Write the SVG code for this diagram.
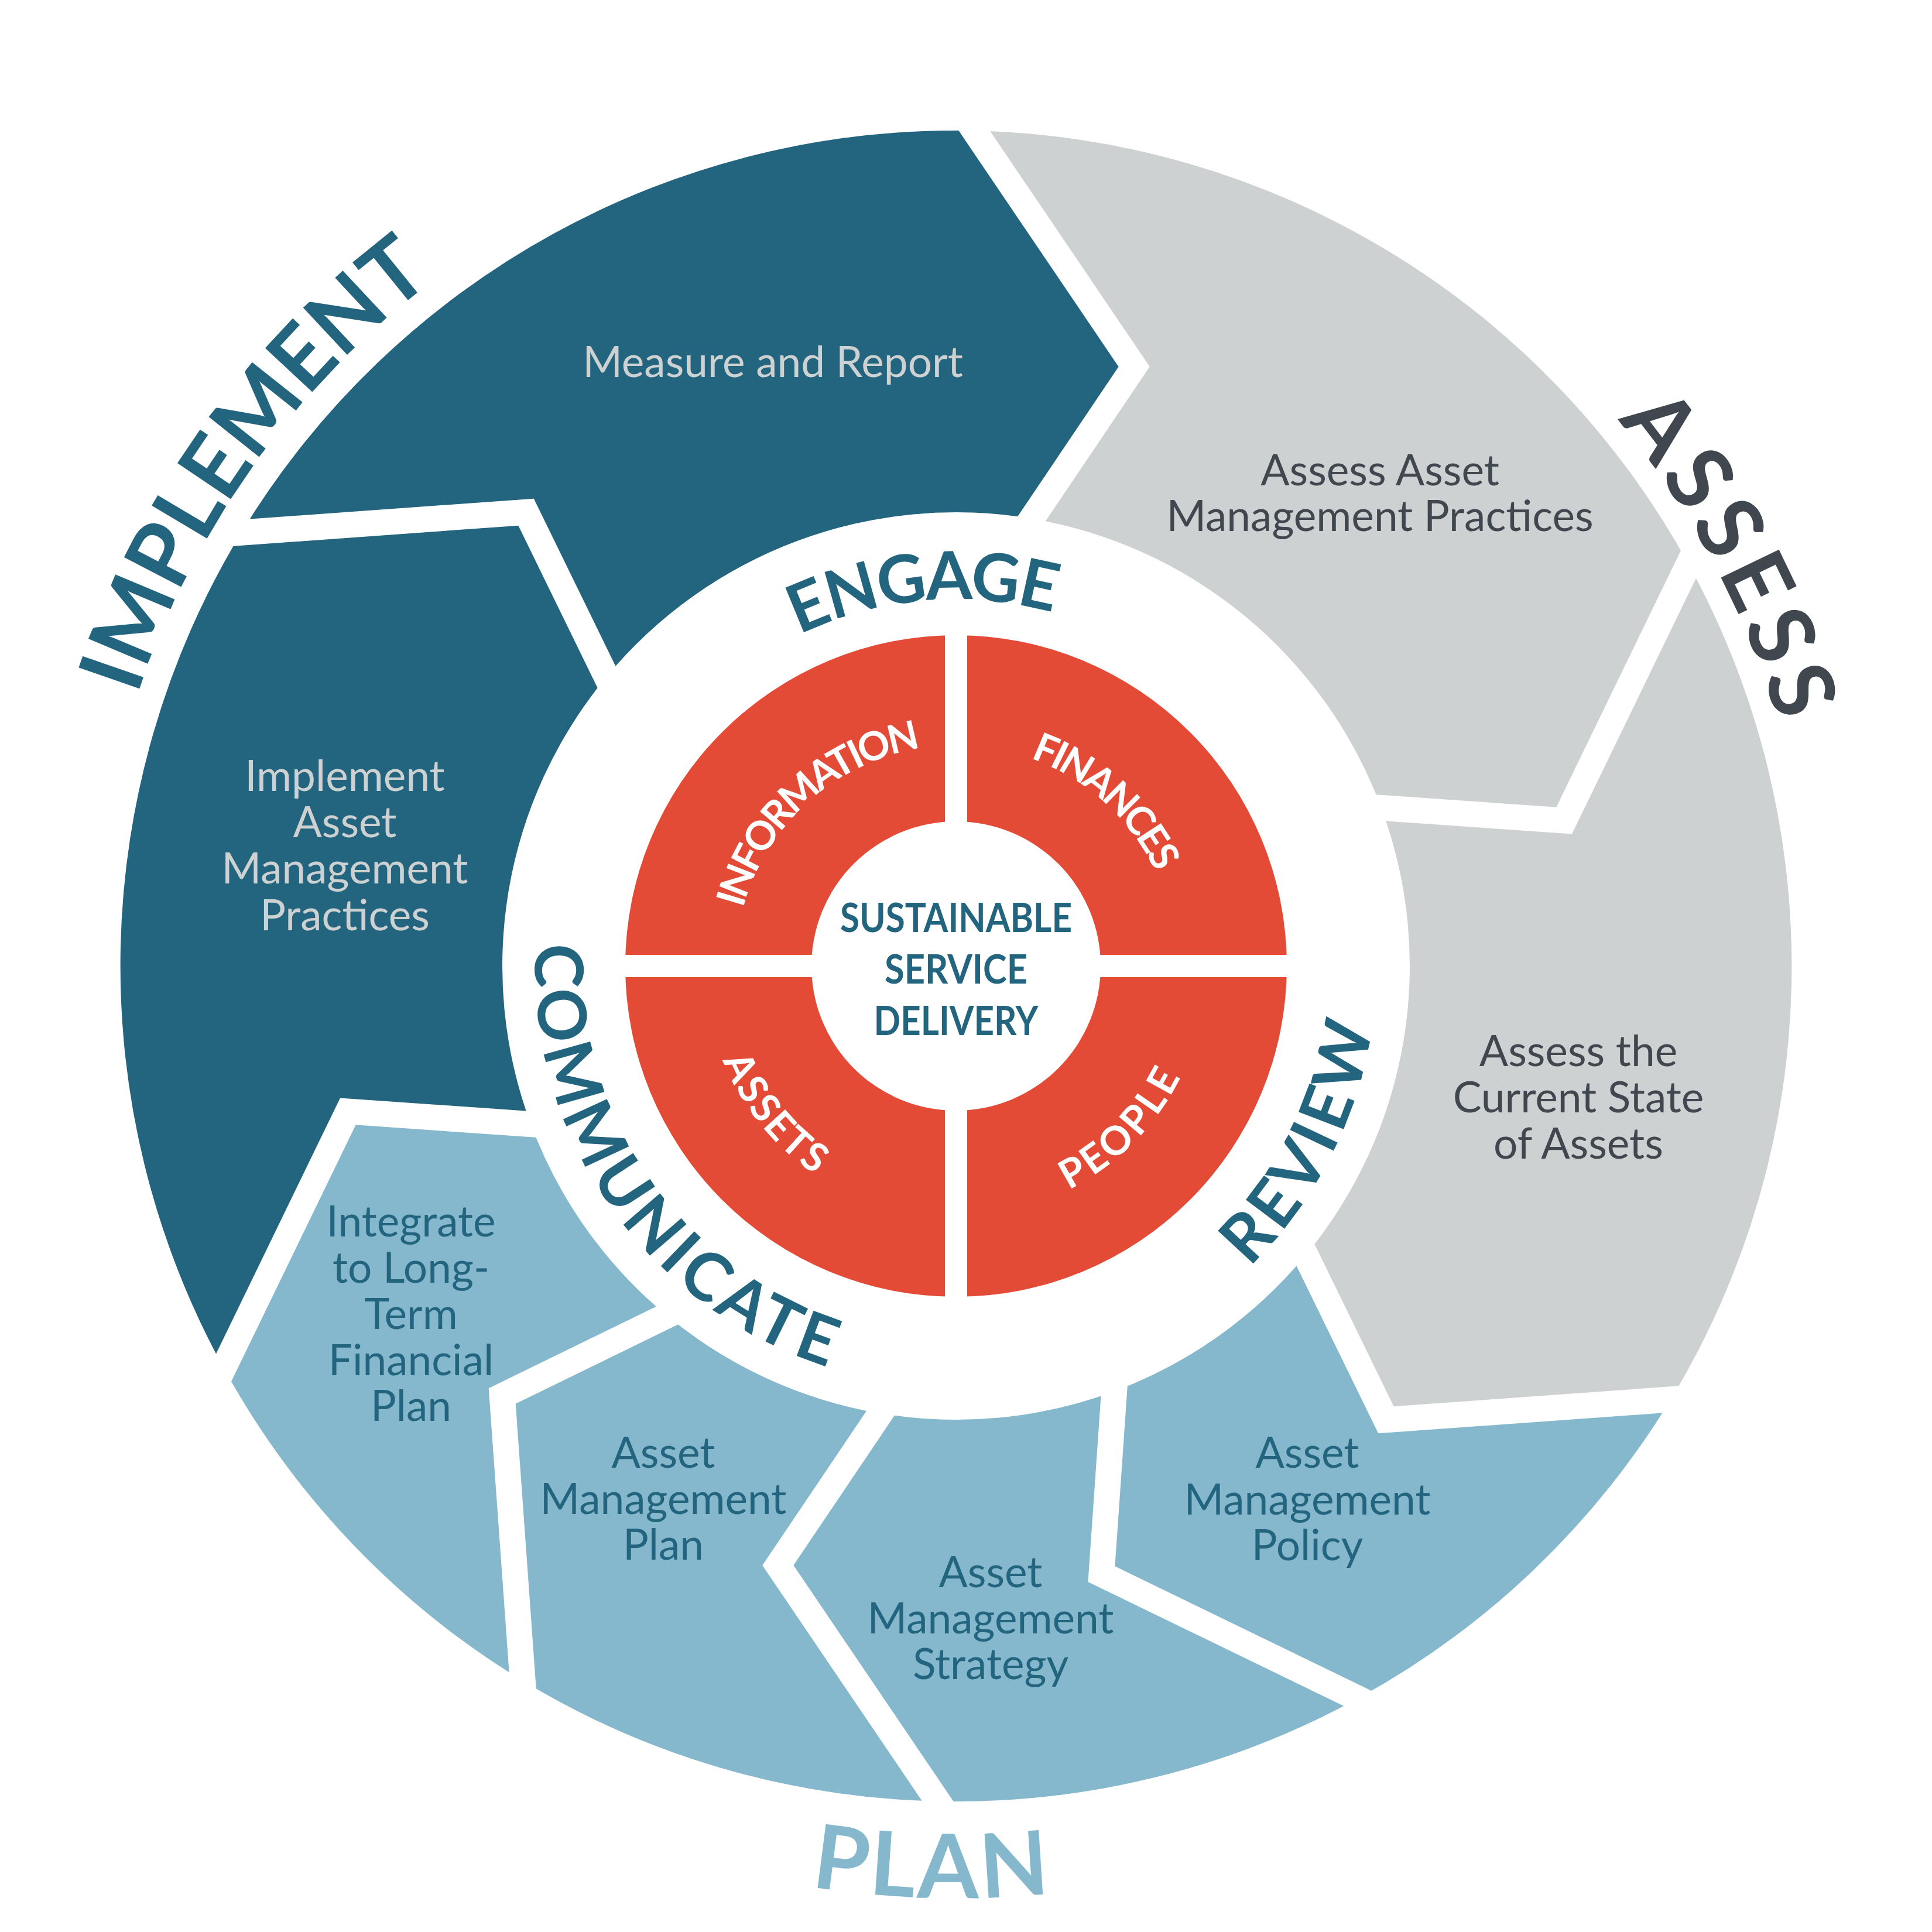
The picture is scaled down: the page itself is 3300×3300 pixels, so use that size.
<svg xmlns="http://www.w3.org/2000/svg" xmlns:xlink="http://www.w3.org/1999/xlink" width="3300" height="3300" viewBox="0 0 3300 3300">
<style>
.dark{fill:#23647e}
.grey{fill:#cdd1d2}
.light{fill:#86b8cd}
.sep{fill:none;stroke:#ffffff;stroke-width:44;stroke-linejoin:miter}
.seg{font-family:Lato,"Open Sans","Liberation Sans",sans-serif;font-size:73px;text-anchor:middle}
.t-dark{fill:#cdd1d2}
.t-grey{fill:#41474f}
.t-light{fill:#23647e}
.big{font-family:Lato,"Open Sans","Liberation Sans",sans-serif;font-weight:700;font-size:152px;text-anchor:middle}
.mid{font-family:Lato,"Open Sans","Liberation Sans",sans-serif;font-weight:700;font-size:114px;text-anchor:middle;fill:#23647e}
.red{font-family:Lato,"Open Sans","Liberation Sans",sans-serif;font-weight:700;font-size:68px;text-anchor:middle;fill:#ffffff}
.core{font-family:Lato,"Open Sans","Liberation Sans",sans-serif;font-weight:700;font-size:68px;text-anchor:middle;fill:#23647e}
</style>
<defs>
<polyline id="sepBase" class="sep" points="3100.8,1621.1 2663.1,1931.8 2357.7,1735.5"/>
<path id="pImplement" d="M 292.6 2260.8 A 1473 1473 0 0 1 1774.2 183.8"/>
<path id="pAssess" d="M 1684.1 185.9 A 1465 1465 0 0 1 2875.4 2426.3"/>
<path id="pPlan" d="M 232.6 2407.2 A 1592 1592 0 0 0 2989.0 2484.2"/>
<path id="pEngage" d="M 1065.6 1385.4 A 626 626 0 0 1 2145.8 1290.9"/>
<path id="pCommunicate" d="M 983.5 1341.6 A 719 719 0 0 0 1690.7 2366.7"/>
<path id="pReview" d="M 1670.6 2367.0 A 718 718 0 0 0 2235.2 1259.0"/>
<path id="pInformation" d="M 1264.2 1728.4 A 377 377 0 0 1 1749.5 1291.5"/>
<path id="pFinances" d="M 1518.4 1290.8 A 377 377 0 0 1 2001.3 1730.3"/>
<path id="pAssets" d="M 1231.6 1495.9 A 430 430 0 0 0 1700.3 2074.7"/>
<path id="pPeople" d="M 1523.7 2063.8 A 428 428 0 0 0 2046.0 1537.8"/>
</defs>
<rect x="0" y="0" width="3300" height="3300" fill="#ffffff"/>

<g id="segment-measure">
<path class="dark" d="M 412.2 909.7 A 1427 1427 0 0 1 1664.1 223.3 L 1937.2 626.2 L 1762.2 885.8 A 775 775 0 0 0 1035.9 1156.0 L 898.3 874.8 Z"/>
</g>
<g id="segment-assess-practices">
<path class="grey" d="M 1664.1 223.3 A 1427 1427 0 0 1 2884.1 963.7 L 2671.7 1401.6 L 2359.4 1379.9 A 775 775 0 0 0 1762.2 885.8 L 1937.2 626.2 Z"/>
</g>
<g id="segment-assess-state">
<path class="grey" d="M 2884.1 963.7 A 1427 1427 0 0 1 2853.8 2390.3 L 2367.7 2425.2 L 2230.1 2144.0 A 775 775 0 0 0 2359.4 1379.9 L 2671.7 1401.6 Z"/>
</g>
<g id="segment-policy">
<path class="light" d="M 2853.8 2390.3 A 1427 1427 0 0 1 2319.3 2901.1 L 1881.4 2688.7 L 1903.1 2376.4 A 775 775 0 0 0 2230.1 2144.0 L 2367.7 2425.2 Z"/>
</g>
<g id="segment-strategy">
<path class="light" d="M 2319.3 2901.1 A 1427 1427 0 0 1 1601.9 3076.7 L 1328.8 2673.8 L 1503.8 2414.2 A 775 775 0 0 0 1903.1 2376.4 L 1881.4 2688.7 Z"/>
</g>
<g id="segment-plan">
<path class="light" d="M 1601.9 3076.7 A 1427 1427 0 0 1 892.7 2870.8 L 857.8 2384.7 L 1139.0 2247.1 A 775 775 0 0 0 1503.8 2414.2 L 1328.8 2673.8 Z"/>
</g>
<g id="segment-integrate">
<path class="light" d="M 892.7 2870.8 A 1427 1427 0 0 1 381.9 2336.3 L 594.3 1898.4 L 906.6 1920.1 A 775 775 0 0 0 1139.0 2247.1 L 857.8 2384.7 Z"/>
</g>
<g id="segment-implement">
<path class="dark" d="M 381.9 2336.3 A 1427 1427 0 0 1 412.2 909.7 L 898.3 874.8 L 1035.9 1156.0 A 775 775 0 0 0 906.6 1920.1 L 594.3 1898.4 Z"/>
</g>

<g id="connectors">
<use xlink:href="#sepBase" href="#sepBase" transform="rotate(271.25 1633 1650)"/>
<use xlink:href="#sepBase" href="#sepBase" transform="rotate(331.25 1633 1650)"/>
<use xlink:href="#sepBase" href="#sepBase" transform="rotate(31.25 1633 1650)"/>
<use xlink:href="#sepBase" href="#sepBase" transform="rotate(61.25 1633 1650)"/>
<use xlink:href="#sepBase" href="#sepBase" transform="rotate(91.25 1633 1650)"/>
<use xlink:href="#sepBase" href="#sepBase" transform="rotate(121.25 1633 1650)"/>
<use xlink:href="#sepBase" href="#sepBase" transform="rotate(151.25 1633 1650)"/>
<use xlink:href="#sepBase" href="#sepBase" transform="rotate(211.25 1633 1650)"/>
</g>

<g id="segment-labels">
<text class="seg t-dark" x="1320" y="644">Measure and Report</text>
<text class="seg t-grey" x="2357" y="829">Assess Asset</text>
<text class="seg t-grey" x="2357" y="907">Management Practices</text>
<text class="seg t-grey" x="2696" y="1821">Assess the</text>
<text class="seg t-grey" x="2696" y="1900">Current State</text>
<text class="seg t-grey" x="2696" y="1979">of Assets</text>
<text class="seg t-light" x="2233" y="2507">Asset</text>
<text class="seg t-light" x="2233" y="2587">Management</text>
<text class="seg t-light" x="2233" y="2665">Policy</text>
<text class="seg t-light" x="1692" y="2711">Asset</text>
<text class="seg t-light" x="1692" y="2790">Management</text>
<text class="seg t-light" x="1692" y="2868">Strategy</text>
<text class="seg t-light" x="1133" y="2507">Asset</text>
<text class="seg t-light" x="1133" y="2586">Management</text>
<text class="seg t-light" x="1133" y="2664">Plan</text>
<text class="seg t-light" x="702" y="2112">Integrate</text>
<text class="seg t-light" x="702" y="2191">to Long-</text>
<text class="seg t-light" x="702" y="2270">Term</text>
<text class="seg t-light" x="702" y="2349">Financial</text>
<text class="seg t-light" x="702" y="2427">Plan</text>
<text class="seg t-dark" x="589" y="1351">Implement</text>
<text class="seg t-dark" x="589" y="1430">Asset</text>
<text class="seg t-dark" x="589" y="1509">Management</text>
<text class="seg t-dark" x="589" y="1589">Practices</text>
</g>

<g id="phase-labels">
<text class="big" fill="#23647e"><textPath xlink:href="#pImplement" href="#pImplement" startOffset="50%" textLength="885" lengthAdjust="spacing">IMPLEMENT</textPath></text>
<text class="big" fill="#41474f"><textPath xlink:href="#pAssess" href="#pAssess" startOffset="50%" textLength="590" lengthAdjust="spacing">ASSESS</textPath></text>
<text class="big" fill="#86b8cd"><textPath xlink:href="#pPlan" href="#pPlan" startOffset="50%" textLength="410" lengthAdjust="spacing">PLAN</textPath></text>
</g>

<g id="ring-labels">
<text class="mid"><textPath xlink:href="#pEngage" href="#pEngage" startOffset="50%" textLength="445" lengthAdjust="spacing">ENGAGE</textPath></text>
<text class="mid"><textPath xlink:href="#pCommunicate" href="#pCommunicate" startOffset="50%" textLength="945" lengthAdjust="spacing">COMMUNICATE</textPath></text>
<text class="mid"><textPath xlink:href="#pReview" href="#pReview" startOffset="50%" textLength="470" lengthAdjust="spacing">REVIEW</textPath></text>
</g>

<g id="core">
<circle cx="1633" cy="1650" r="565" fill="#e44b37"/>
<rect x="1614" y="1075" width="38" height="1150" fill="#ffffff"/>
<rect x="1058" y="1631" width="1150" height="38" fill="#ffffff"/>
<circle cx="1633" cy="1650" r="247" fill="#ffffff"/>
</g>

<g id="quadrant-information"><text class="red"><textPath xlink:href="#pInformation" href="#pInformation" startOffset="50%" textLength="432" lengthAdjust="spacing">INFORMATION</textPath></text></g>
<g id="quadrant-finances"><text class="red"><textPath xlink:href="#pFinances" href="#pFinances" startOffset="50%" textLength="298" lengthAdjust="spacing">FINANCES</textPath></text></g>
<g id="quadrant-assets"><text class="red"><textPath xlink:href="#pAssets" href="#pAssets" startOffset="50%" textLength="255" lengthAdjust="spacing">ASSETS</textPath></text></g>
<g id="quadrant-people"><text class="red"><textPath xlink:href="#pPeople" href="#pPeople" startOffset="50%" textLength="276" lengthAdjust="spacing">PEOPLE</textPath></text></g>

<g id="center-label">
<text class="core" x="1633" y="1592" textLength="396" lengthAdjust="spacingAndGlyphs">SUSTAINABLE</text>
<text class="core" x="1633" y="1680" textLength="244" lengthAdjust="spacingAndGlyphs">SERVICE</text>
<text class="core" x="1633" y="1768" textLength="281" lengthAdjust="spacingAndGlyphs">DELIVERY</text>
</g>
</svg>
